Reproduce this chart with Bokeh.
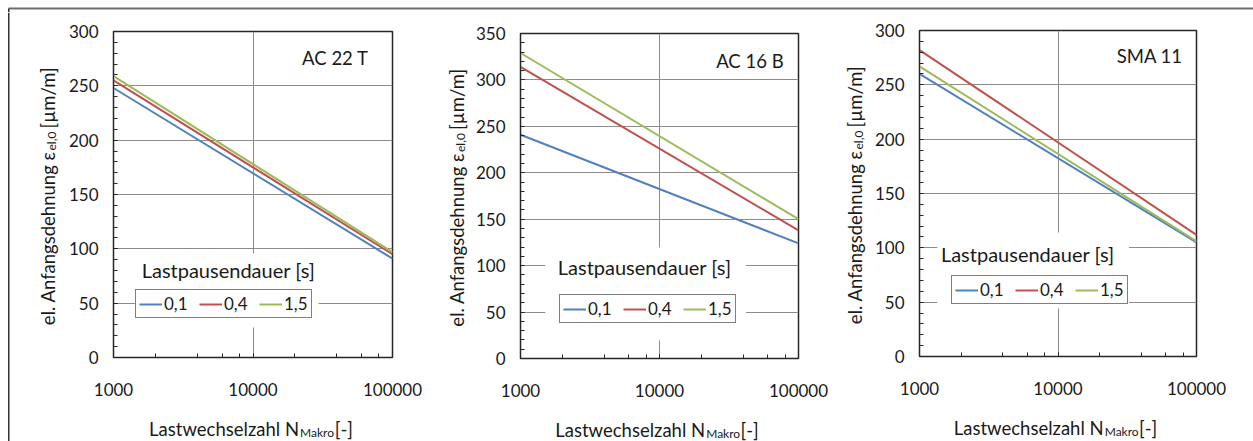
import math

from bokeh.core.properties import value
from bokeh.embed import file_html
from bokeh.layouts import column, row
from bokeh.models import (BoxAnnotation, Label, Legend, LegendItem, LogTicker,
                          NumeralTickFormatter, Range1d, SingleIntervalTicker)
from bokeh.plotting import figure
from bokeh.resources import INLINE

# ---- data -------------------------------------------------------------
n_makro = [1000, 100000]                     # Lastwechselzahl (log axis)
pause_labels = ["0,1", "0,4", "1,5"]         # Lastpausendauer [s]

ac22t_01 = [248, 91]
ac22t_04 = [255, 95]
ac22t_15 = [259, 97]

ac16b_01 = [241, 124]
ac16b_04 = [314, 138]
ac16b_15 = [329, 150]

sma11_01 = [260, 105]
sma11_04 = [282, 112]
sma11_15 = [267, 106]

titles = ["AC 22 T", "AC 16 B", "SMA 11"]
y_max = [300, 350, 300]

# ---- styles -----------------------------------------------------------
COLORS = ["#4F81BD", "#C0504D", "#9BBB59"]
FONT = "Lato"
TEXT = "#1a1a1a"
GRID = "#8c8c8c"
FRAME = "#262626"
W_TOTAL = 1253
H = 441
TOP = 12        # height of the strip carrying the upper border line
MAIN_B = 405    # page y where the x-label strip begins
AX_SIZE, AX_SUB = "18.5px", "12px"

# page geometry of each panel: left edge, width, y-label strip width, frame box
PANELS = [
    dict(x0=0,   w=440, s=62, L=113, R=392,  T=31, B=357,
         title_x=368, title_y=57, lt_x=228, lt_y=269, leg=(135, 318),
         white=(135, 318, 253, 327), ybase=47),
    dict(x0=440, w=395, s=32, L=518, R=798,  T=33, B=358,
         title_x=783, title_y=60, lt_x=643, lt_y=266, leg=(557, 323),
         white=(543, 745, 247, 340), ybase=456),
    dict(x0=835, w=418, s=36, L=917, R=1196, T=30, B=356,
         title_x=1182, title_y=55, lt_x=1026, lt_y=253, leg=(949, 304),
         white=(935, 1128, 232, 308), ybase=854),
]


def strip(width, height, x_range, y_range, left=0, right=0):
    """Plain drawing surface whose data units are page pixels (y pointing down)."""
    s = figure(width=width, height=height, x_range=Range1d(*x_range),
               y_range=Range1d(*y_range), min_border=0,
               min_border_left=left, min_border_right=right,
               x_axis_location=None, y_axis_location=None,
               output_backend="svg", toolbar_location=None)
    s.grid.visible = False
    s.outline_line_color = None
    s.background_fill_color = "white"
    s.border_fill_color = "white"
    return s


def text_label(x, y, text, size, align="left", baseline="alphabetic", angle=0.0):
    return Label(x=x, y=y, text=text, angle=angle, text_align=align,
                 text_baseline=baseline, text_font=FONT,
                 text_font_size=size, text_color=TEXT)


def make_panel(i, series):
    g = PANELS[i]
    ymax = y_max[i]
    fw = g["R"] - g["L"]
    fh = g["B"] - g["T"]
    xm = g["x0"] + g["s"]          # page x where the main figure starts
    wm = g["w"] - g["s"]
    border_l = g["L"] - xm
    border_r = g["x0"] + g["w"] - g["R"]

    def dx(px):
        return 10 ** (3 + 2 * (px - g["L"]) / fw)

    def dy(py):
        return ymax * (1 - (py - g["T"]) / fh)

    p = figure(width=wm, height=MAIN_B - TOP, x_axis_type="log",
               x_range=Range1d(1000, 100000), y_range=Range1d(0, ymax),
               min_border_left=border_l, min_border_right=border_r,
               min_border_top=g["T"] - TOP, min_border_bottom=MAIN_B - g["B"],
               output_backend="svg", toolbar_location=None)
    p.background_fill_color = "white"
    p.border_fill_color = "white"
    p.outline_line_color = FRAME
    p.outline_line_width = 1.5

    p.xaxis.ticker = LogTicker()
    p.xaxis.formatter = NumeralTickFormatter(format="0")
    p.yaxis.ticker = SingleIntervalTicker(interval=50, num_minor_ticks=5)
    for ax in (p.xaxis, p.yaxis):
        ax.axis_line_color = FRAME
        ax.major_tick_in = 4
        ax.major_tick_out = 0
        ax.minor_tick_in = 4
        ax.minor_tick_out = 0
        ax.major_tick_line_color = FRAME
        ax.minor_tick_line_color = FRAME
        ax.major_label_text_font = FONT
        ax.major_label_text_font_size = "17px"
        ax.major_label_text_color = TEXT
    p.xaxis.major_label_standoff = 25
    p.yaxis.major_label_standoff = 15

    p.xgrid.grid_line_color = GRID
    p.ygrid.grid_line_color = GRID

    renderers = []
    for vals, col in zip(series, COLORS):
        renderers.append(p.line(n_makro, vals, line_color=col, line_width=2))

    # white area behind legend and its caption
    wl, wr, wt, wb = g["white"]
    p.add_layout(BoxAnnotation(left=dx(wl), right=dx(wr), top=dy(wt), bottom=dy(wb),
                               fill_color="white", fill_alpha=1, line_color=None))

    # panel caption
    p.add_layout(text_label(dx(g["title_x"]), dy(g["title_y"]), titles[i], "18.5px",
                            align="right", baseline="middle"))

    # legend caption
    p.add_layout(text_label(dx(g["lt_x"]), dy(g["lt_y"]), "Lastpausendauer [s]", "20px",
                            align="center", baseline="middle"))

    lx, lb = g["leg"]
    legend = Legend(
        items=[LegendItem(label=value(lbl), renderers=[r])
               for lbl, r in zip(pause_labels, renderers)],
        orientation="horizontal", location=(lx - g["L"], g["B"] - lb), margin=0,
        padding=3, spacing=11, glyph_width=23, glyph_height=16, label_standoff=2,
        label_width=24, label_height=20,
        label_text_font=FONT, label_text_font_size="17px", label_text_color=TEXT,
        border_line_color="black", border_line_width=1,
        background_fill_color="white", background_fill_alpha=1)
    p.add_layout(legend)

    # x axis label strip (subscripted N_Makro); its frame lines up with the plot frame
    xs = strip(wm, H - MAIN_B, (g["L"], g["R"]), (H, MAIN_B),
               left=border_l, right=border_r)
    jx = (g["L"] + g["R"]) / 2 + 46
    by = g["B"] + 71
    xs.add_layout(text_label(jx, by, "Lastwechselzahl N", AX_SIZE, align="right"))
    xs.add_layout(text_label(jx + 1, by + 4, "Makro", AX_SUB))
    xs.add_layout(text_label(jx + 54, by, "[-]", AX_SIZE, align="right"))

    # rotated y axis label strip (subscripted epsilon_el,0)
    ys = strip(g["s"], H - TOP, (g["x0"], xm), (H, TOP))
    bx = g["ybase"]
    jy = (g["T"] + g["B"]) / 2 - 43
    rot = math.pi / 2
    ys.add_layout(text_label(bx, jy, "el. Anfangsdehnung ε", AX_SIZE,
                             align="right", angle=rot))
    ys.add_layout(text_label(bx + 4, jy - 1, "el,0", AX_SUB, angle=rot))
    ys.add_layout(text_label(bx, jy - 23, "[µm/m]", AX_SIZE, angle=rot))
    if g["x0"] == 0:
        # left edge of the surrounding frame
        ys.add_layout(BoxAnnotation(left=7.5, right=9, top=TOP, bottom=H,
                                    fill_color="#333333", fill_alpha=1, line_color=None))

    return row(ys, column(p, xs, spacing=0), spacing=0)


# upper edge of the surrounding frame
top = strip(W_TOTAL, TOP, (0, W_TOTAL), (TOP, 0))
top.add_layout(BoxAnnotation(left=8, right=W_TOTAL, top=7, bottom=9,
                             fill_color="#6e6e6e", fill_alpha=1, line_color=None))
top.add_layout(BoxAnnotation(left=7.5, right=9, top=8, bottom=TOP,
                             fill_color="#333333", fill_alpha=1, line_color=None))

panels = [
    make_panel(0, [ac22t_01, ac22t_04, ac22t_15]),
    make_panel(1, [ac16b_01, ac16b_04, ac16b_15]),
    make_panel(2, [sma11_01, sma11_04, sma11_15]),
]

layout = column(top, row(*panels, spacing=0), spacing=0)
open("out.html", "w").write(file_html(layout, INLINE))
